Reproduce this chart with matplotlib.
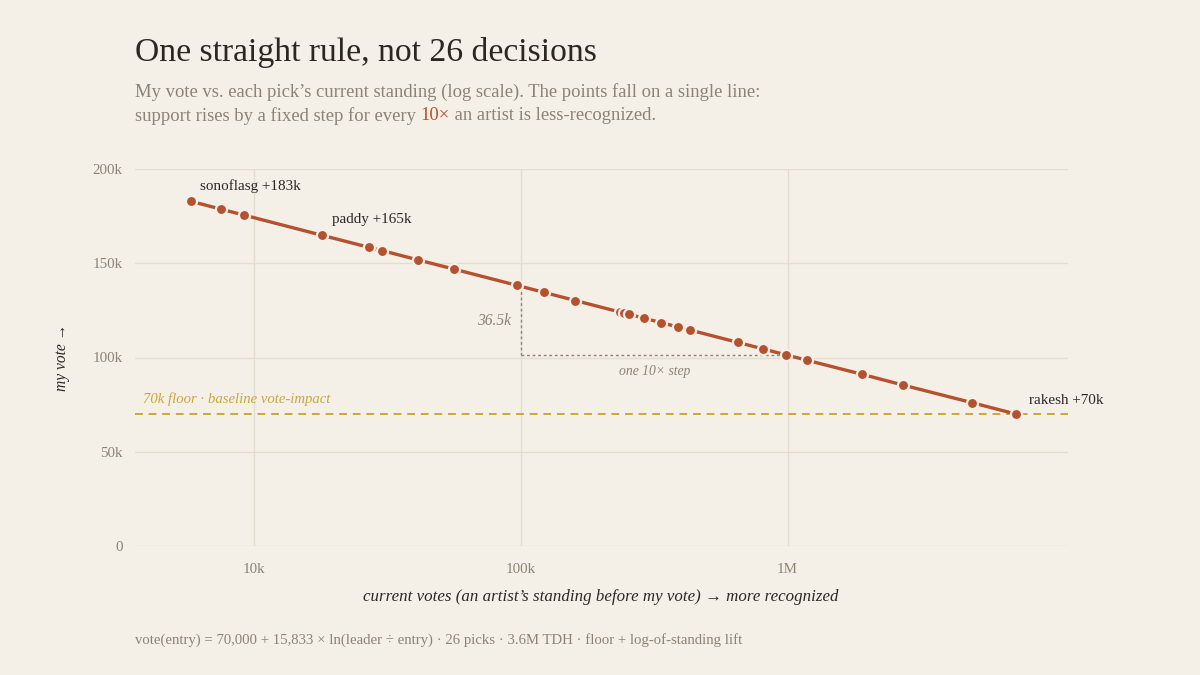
import matplotlib
matplotlib.use("Agg")
import matplotlib.pyplot as plt
from matplotlib.ticker import FixedLocator, NullLocator

# ---- data ----
current_votes = [5766, 7490, 9110, 17860, 26810, 30150, 41020, 55980, 96440,
                 122300, 160100, 235200, 243900, 254300, 288600, 336400, 389500,
                 429500, 651600, 811800, 986300, 1186000, 1901000, 2708000,
                 4900000, 7184000]
my_vote = [182900, 178700, 175600, 164900, 158500, 156700, 151800, 146900,
           138300, 134500, 130200, 124100, 123600, 122900, 120900, 118500,
           116100, 114600, 108000, 104500, 101400, 98500, 91100, 85400,
           76100, 70000]
labels = {0: "sonoflasg +183k", 3: "paddy +165k", 25: "rakesh +70k"}
label_offsets_px = {0: (9, 15), 3: (10, 16), 25: (13, 14)}
floor_value = 70000
step_x = [100000, 1000000]
step_y = [137700, 101200]
x_ticks = [10000, 100000, 1000000]
x_tick_labels = ["10k", "100k", "1M"]
y_ticks = [0, 50000, 100000, 150000, 200000]
y_tick_labels = ["0", "50k", "100k", "150k", "200k"]

BG = "#f4f0e7"
DARK = "#2b2722"
GRAY = "#8c8276"
ACCENT = "#b5512f"
GOLD = "#c9a640"
GRID = "#e4ddcf"
SERIF = ["Liberation Serif", "DejaVu Serif"]

plt.rcParams["font.family"] = SERIF

W, H = 1200, 675
fig = plt.figure(figsize=(12, 6.75), dpi=100, facecolor=BG)
ax = fig.add_axes([135 / W, 1 - 546 / H, (1068 - 135) / W, (546 - 169) / H])
ax.set_facecolor(BG)
ax.set_xscale("log")
ax.set_xlim(3565, 11270000)
ax.set_ylim(0, 200000)

ax.xaxis.set_major_locator(FixedLocator(x_ticks))
ax.xaxis.set_minor_locator(NullLocator())
ax.set_xticklabels(x_tick_labels)
ax.set_yticks(y_ticks)
ax.set_yticklabels(y_tick_labels)
ax.tick_params(length=0, colors=GRAY, labelsize=10.8, pad=9)
ax.tick_params(axis="x", pad=12)
for s in ax.spines.values():
    s.set_visible(False)
ax.grid(True, color=GRID, lw=1.0, zorder=0)
ax.set_axisbelow(True)

px = 0.72  # points per pixel

# floor
ax.axhline(floor_value, color=GOLD, lw=1.4, ls=(0, (4, 3)), zorder=1)
ax.annotate("70k floor · baseline vote-impact", xy=(0, floor_value),
            xycoords=("axes fraction", "data"), xytext=(8 * px, 8 * px),
            textcoords="offset points", ha="left", va="bottom",
            color=GOLD, fontsize=10.6, style="italic")

# one 10x step annotation
ax.plot([step_x[0], step_x[0]], [step_y[0], step_y[1]], color=GRAY, lw=1,
        ls=(0, (2, 2)), zorder=1)
ax.plot([step_x[0], step_x[1]], [step_y[1], step_y[1]], color=GRAY, lw=1,
        ls=(0, (2, 2)), zorder=1)
ax.annotate("36.5k", xy=(step_x[0], (step_y[0] + step_y[1]) / 2),
            xytext=(-10 * px, 0), textcoords="offset points", ha="right",
            va="center", color=GRAY, fontsize=11.2, style="italic")
ax.annotate("one 10× step", xy=((step_x[0] * step_x[1]) ** 0.5, step_y[1]),
            xytext=(0, -16 * px), textcoords="offset points", ha="center",
            va="center", color=GRAY, fontsize=9.8, style="italic")

# line + points
ax.plot(current_votes, my_vote, color=ACCENT, lw=2.4, zorder=3,
        solid_capstyle="round")
ax.plot(current_votes, my_vote, ls="none", marker="o", ms=8.0,
        markerfacecolor=ACCENT, markeredgecolor=BG, mew=1.6, zorder=4)

for i, text in labels.items():
    dx, dy = label_offsets_px[i]
    ax.annotate(text, xy=(current_votes[i], my_vote[i]),
                xytext=(dx * px, dy * px), textcoords="offset points",
                ha="left", va="center", color=DARK, fontsize=10.9)

# titles & texts
fig.text(135 / W, 1 - 52 / H, "One straight rule, not 26 decisions",
         ha="left", va="center", color=DARK, fontsize=24.2)
SUB = 13.4
fig.text(135 / W, 1 - 92 / H,
         "My vote vs. each pick’s current standing (log scale). The points fall on a single line:",
         ha="left", va="center", color=GRAY, fontsize=SUB)
sub2a = fig.text(135 / W, 1 - 116 / H,
                 "support rises by a fixed step for every ",
                 ha="left", va="center", color=GRAY, fontsize=SUB)
fig.canvas.draw()
r = fig.canvas.get_renderer()
bb = sub2a.get_window_extent(renderer=r)
t2 = fig.text(bb.x1 / W, 1 - 116 / H, "10×", ha="left", va="center",
              color=ACCENT, fontsize=SUB)
bb2 = t2.get_window_extent(renderer=r)
fig.text(bb2.x1 / W, 1 - 116 / H, " an artist is less-recognized.",
         ha="left", va="center", color=GRAY, fontsize=SUB)

fig.text(62 / W, 1 - 357 / H, "my vote →", rotation=90, ha="center",
         va="center", color=DARK, fontsize=11.2, style="italic")
fig.text(601 / W, 1 - 597 / H,
         "current votes (an artist’s standing before my vote) → more recognized",
         ha="center", va="center", color=DARK, fontsize=12.2, style="italic")
fig.text(135 / W, 1 - 640 / H,
         "vote(entry) = 70,000 + 15,833 × ln(leader ÷ entry) · 26 picks · 3.6M TDH · floor + log-of-standing lift",
         ha="left", va="center", color=GRAY, fontsize=10.6)

fig.savefig("out.png", dpi=100, facecolor=BG)
